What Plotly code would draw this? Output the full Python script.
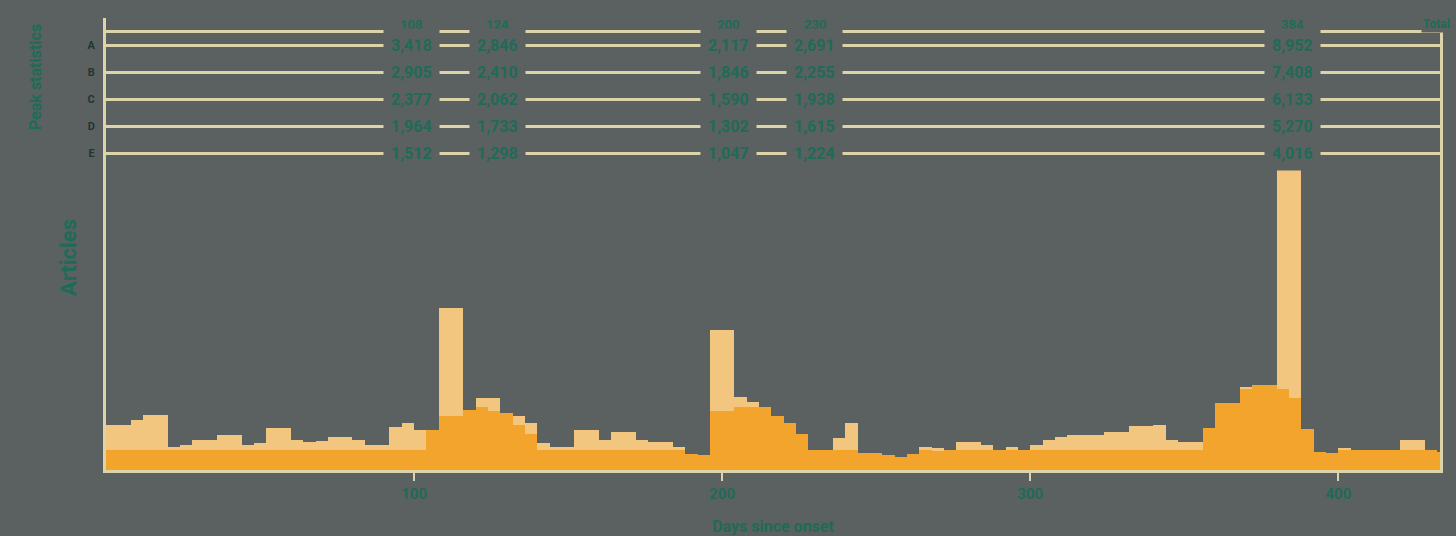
import plotly.graph_objects as go

# ---------------- data ----------------
bin_width = 4
bin_centers = [bin_width * k + bin_width / 2 for k in range(109)]

baseline_counts = [
    4.4, 4.4, 4.4, 4.4, 4.4, 4.4, 4.4, 4.4, 4.4, 4.4,
    4.4, 4.4, 4.4, 4.4, 4.4, 4.4, 4.4, 4.4, 4.4, 4.4,
    4.4, 4.4, 4.4, 4.4, 4.4, 4.4, 8.8, 12, 12, 13.3,
    14, 13, 12.6, 10, 8, 4.4, 4.4, 4.4, 4.4, 4.4,
    4.4, 4.4, 4.4, 4.4, 4.4, 4.4, 4.4, 3.5, 3.3, 13,
    13, 14, 14, 13.9, 12, 10.4, 8, 4.4, 4.4, 4.4,
    4.4, 3.8, 3.8, 3.3, 2.9, 3.5, 4.4, 4.4, 4.4, 4.4,
    4.4, 4.4, 4.4, 4.4, 4.4, 4.4, 4.4, 4.4, 4.4, 4.4,
    4.4, 4.4, 4.4, 4.4, 4.4, 4.4, 4.4, 4.4, 4.4, 9.3,
    14.8, 14.8, 18, 18.8, 18.8, 18, 16, 9, 4, 3.8,
    4.4, 4.4, 4.4, 4.4, 4.4, 4.4, 4.4, 4.4, 4,
]
excess_counts = [
    5.6, 5.6, 6.6, 7.8, 7.8, 0.7, 1.1, 2.2, 2.2, 3.3,
    3.3, 1.1, 1.6, 4.9, 4.9, 2.2, 1.8, 2.1, 2.9, 2.9,
    2.2, 1.1, 1.1, 5.1, 6.0, 4.4, 0, 23.8, 23.8, 0,
    1.9, 2.9, 0, 2, 2.4, 1.6, 0.7, 0.7, 4.4, 4.4,
    2.2, 4.0, 4.0, 2.2, 1.8, 1.8, 0.6, 0, 0, 18,
    18, 2.2, 1, 0, 0, 0, 0, 0, 0, 2.6,
    6.0, 0, 0, 0, 0, 0, 0.7, 0.4, 0, 1.8,
    1.8, 1.1, 0, 0.7, 0, 1.1, 2.2, 2.9, 3.3, 3.3,
    3.3, 4.1, 4.0, 5.3, 5.3, 5.6, 2.2, 1.8, 1.8, 0,
    0, 0, 0.4, 0, 0, 77, 79, 0, 0, 0,
    0.5, 0, 0, 0, 0, 2.2, 2.2, 0, 0,
]

x_tick_values = [100, 200, 300, 400]
x_tick_labels = ["100", "200", "300", "400"]

row_values = [94, 88, 82, 76, 70]
row_labels = ["A", "B", "C", "D", "E"]
header_line_value = 97
header_value = 98.6

table_columns_x = [99, 127, 202, 230, 385]
table_headers = ["108", "124", "200", "230", "384"]
table_cells = [
    ["3,418", "2,905", "2,377", "1,964", "1,512"],
    ["2,846", "2,410", "2,062", "1,733", "1,298"],
    ["2,117", "1,846", "1,590", "1,302", "1,047"],
    ["2,691", "2,255", "1,938", "1,615", "1,224"],
    ["8,952", "7,408", "6,133", "5,270", "4,016"],
]

# ---------------- style ----------------
BG = "#5a6160"
ORANGE = "#f2a42c"
PALE = "#f2c67e"
CREAM = "#dcd3a8"
TEAL = "#1e6b57"
DARK = "#24352f"

fig = go.Figure()
fig.add_bar(x=bin_centers, y=baseline_counts, width=bin_width,
            marker=dict(color=ORANGE, line=dict(width=0)), name="baseline")
fig.add_bar(x=bin_centers, y=excess_counts, width=bin_width,
            marker=dict(color=PALE, line=dict(width=0)), name="excess")

annotations = []
for j, cx in enumerate(table_columns_x):
    annotations.append(dict(
        x=cx, y=header_value, xref="x", yref="y", text=table_headers[j],
        showarrow=False, font=dict(family="Roboto", size=13, color=TEAL, weight="bold"),
        bgcolor=BG, borderpad=1))
    for i, ry in enumerate(row_values):
        annotations.append(dict(
            x=cx, y=ry, xref="x", yref="y", text=table_cells[j][i],
            showarrow=False, font=dict(family="Roboto", size=16, color=TEAL, weight="bold"),
            bgcolor=BG, borderpad=7))

annotations.append(dict(
    x=1.009, y=header_value, xref="paper", yref="y", text="Total", xanchor="right",
    showarrow=False, font=dict(family="Roboto", size=12, color=TEAL, weight="bold"),
    bgcolor=BG))
annotations.append(dict(
    x=-0.053, y=0.87, xref="paper", yref="paper", text="Peak statistics", textangle=-90,
    xanchor="center", yanchor="middle",
    showarrow=False, font=dict(family="Roboto", size=16, color=TEAL, weight="bold")))
annotations.append(dict(
    x=-0.0285, y=0.471, xref="paper", yref="paper", text="Articles", textangle=-90,
    xanchor="center", yanchor="middle",
    showarrow=False, font=dict(family="Roboto", size=22, color=TEAL, weight="bold")))

fig.update_layout(
    width=1456, height=536,
    paper_bgcolor=BG, plot_bgcolor=BG,
    margin=dict(l=106, r=16, t=18, b=66, autoexpand=False),
    barmode="stack", bargap=0,
    showlegend=False,
    annotations=annotations,
    xaxis=dict(
        range=[0, 433], tickvals=x_tick_values, ticktext=x_tick_labels,
        showgrid=False, zeroline=False, automargin=False,
        showline=True, linecolor=CREAM, linewidth=3,
        ticks="outside", ticklen=8, tickwidth=2, tickcolor=CREAM,
        tickfont=dict(family="Roboto", size=15, color=TEAL, weight="bold"),
        title=dict(text="Days since onset", standoff=22,
                   font=dict(family="Roboto", size=16, color=TEAL, weight="bold")),
    ),
    yaxis=dict(
        range=[0, 100], automargin=False,
        tickvals=row_values + [header_line_value],
        ticktext=row_labels + [""],
        showgrid=True, gridcolor=CREAM, gridwidth=2.5,
        zeroline=False,
        showline=True, linecolor=CREAM, linewidth=3, mirror=True,
        ticks="", ticklabelstandoff=6,
        tickfont=dict(family="Roboto", size=11, color=DARK, weight="bold"),
    ),
)

fig.write_html("out.html", config={"displayModeBar": False},
               post_script="document.body.style.margin='0';")
